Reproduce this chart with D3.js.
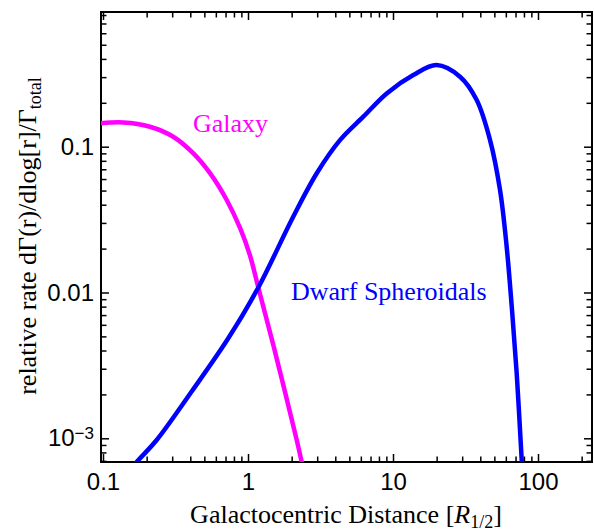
<!DOCTYPE html>
<html>
<head>
<meta charset="utf-8">
<script src="https://cdn.jsdelivr.net/npm/d3@7"></script>
<style>
  body { margin: 0; background: #fff; }
  .tk text { font-family: "Liberation Sans", Arial, sans-serif; font-size: 24px; fill: #000; }
  .tk line { stroke: #000; stroke-width: 1.5; }
  .lab { font-family: "Liberation Serif", "Times New Roman", serif; font-size: 26px; }
</style>
</head>
<body>
<script>
// galactocentric rate plot

var width  = 594,
    height = 531;

var xTicks = [0.1, 1, 10, 100];
var yTicks = [0.1, 0.01, 0.001];

// Galaxy curve (magenta)
var galaxyR = [0.0954, 0.138, 0.211, 0.305, 0.42, 0.547, 0.713, 0.881, 1.032, 1.178, 1.494, 2.168, 2.346, 2.43];
var galaxyV = [0.1445, 0.1466, 0.137, 0.117, 0.090, 0.0658, 0.0431, 0.0277, 0.01794, 0.01082, 0.00437, 0.000973, 0.000688, 0.000587];

// Dwarf spheroidals curve (blue)
var dwarfR = [0.1637, 0.171, 0.2346, 0.411, 0.731, 1.178, 2.05, 2.98, 4.31, 6.24, 9.05, 13.8, 20.0, 28.98, 37.77, 46.7, 54.7, 60.8, 65.9, 71.3, 77.2, 78.2];
var dwarfV = [0.000646, 0.000688, 0.000973, 0.00211, 0.00485, 0.01082, 0.0331, 0.0658, 0.111, 0.1606, 0.232, 0.310, 0.363, 0.302, 0.209, 0.111, 0.0505, 0.0206, 0.0080, 0.00279, 0.00071, 0.000587];

var x = d3.scaleLog()
    .domain([Math.pow(10, -1.0138), Math.pow(10, 2.3724)])
    .range([101, 592]);

var y = d3.scaleLog()
    .domain([Math.pow(10, -3.1626), Math.pow(10, -0.0762)])
    .range([462, 12]);

function minors(scale) {
  var dom = scale.domain(), out = [];
  for (var p = -4; p <= 3; p++) {
    for (var k = 2; k <= 9; k++) {
      var v = k * Math.pow(10, p);
      if (v > dom[0] && v < dom[1]) out.push(v);
    }
  }
  return out;
}

var svg = d3.select("body").append("svg")
    .attr("width", width)
    .attr("height", height);

svg.append("defs").append("clipPath").attr("id", "clip")
  .append("rect")
    .attr("x", 101).attr("y", 12)
    .attr("width", 491).attr("height", 450);

// ticks, all pointing inward
function addAxis(axis, tx, ty) {
  var g = svg.append("g").attr("class", "tk")
      .attr("transform", "translate(" + tx + "," + ty + ")")
      .call(axis);
  g.select(".domain").remove();
  return g;
}

var xb = addAxis(d3.axisBottom(x).tickValues(xTicks).tickSize(-8)
    .tickFormat(function(d) { return d >= 1 ? d3.format("d")(d) : d; }), 0, 462);
xb.selectAll("text").attr("dy", "0.71em").attr("y", 11);
addAxis(d3.axisBottom(x).tickValues(minors(x)).tickSize(-5.5).tickFormat(""), 0, 462);
addAxis(d3.axisTop(x).tickValues(xTicks).tickSize(-8).tickFormat(""), 0, 12);
addAxis(d3.axisTop(x).tickValues(minors(x)).tickSize(-5.5).tickFormat(""), 0, 12);

var yl = addAxis(d3.axisLeft(y).tickValues(yTicks).tickSize(-8)
    .tickFormat(function(d) { return d === 0.001 ? "" : d; }), 101, 0);
yl.selectAll("text").attr("x", -7);
yl.selectAll(".tick").filter(function(d) { return d === 0.001; })
  .select("text")
    .call(function(t) {
      t.append("tspan").text("10");
      t.append("tspan").attr("dy", "-0.45em").attr("font-size", "17px").text("\u22123");
    });
addAxis(d3.axisLeft(y).tickValues(minors(y)).tickSize(-5.5).tickFormat(""), 101, 0);
addAxis(d3.axisRight(y).tickValues(yTicks).tickSize(-8).tickFormat(""), 592, 0);
addAxis(d3.axisRight(y).tickValues(minors(y)).tickSize(-5.5).tickFormat(""), 592, 0);

// frame
svg.append("rect")
    .attr("x", 101).attr("y", 12)
    .attr("width", 491).attr("height", 450)
    .attr("fill", "none")
    .attr("stroke", "#000")
    .attr("stroke-width", 2);

var line = d3.line()
    .x(function(d) { return x(d[0]); })
    .y(function(d) { return y(d[1]); })
    .curve(d3.curveCatmullRom.alpha(0.5));

var plot = svg.append("g").attr("clip-path", "url(#clip)");

plot.append("path")
    .datum(d3.zip(galaxyR, galaxyV))
    .attr("d", line)
    .attr("fill", "none")
    .attr("stroke", "#ff00ff")
    .attr("stroke-width", 4.5);

plot.append("path")
    .datum(d3.zip(dwarfR, dwarfV))
    .attr("d", line)
    .attr("fill", "none")
    .attr("stroke", "#0000ff")
    .attr("stroke-width", 4.5);

// curve labels
svg.append("text").attr("class", "lab")
    .attr("x", 193).attr("y", 132)
    .attr("fill", "#ff00ff")
    .text("Galaxy");

svg.append("text").attr("class", "lab")
    .attr("x", 291).attr("y", 300)
    .attr("fill", "#0000ff")
    .text("Dwarf Spheroidals");

// axis titles
var xt = svg.append("text").attr("class", "lab")
    .attr("x", 346).attr("y", 523)
    .attr("text-anchor", "middle");
xt.append("tspan").text("Galactocentric Distance [");
xt.append("tspan").attr("font-style", "italic").text("R");
xt.append("tspan").attr("font-size", "18px").attr("dy", 5).text("1/2");
xt.append("tspan").attr("dy", -5).text("]");

var yt = svg.append("text").attr("class", "lab")
    .attr("transform", "translate(36,236) rotate(-90)")
    .attr("text-anchor", "middle");
yt.append("tspan").text("relative rate d\u0393(r)/dlog[r]/\u0393");
yt.append("tspan").attr("font-size", "18px").attr("dy", 5).text("total");
</script>
</body>
</html>
